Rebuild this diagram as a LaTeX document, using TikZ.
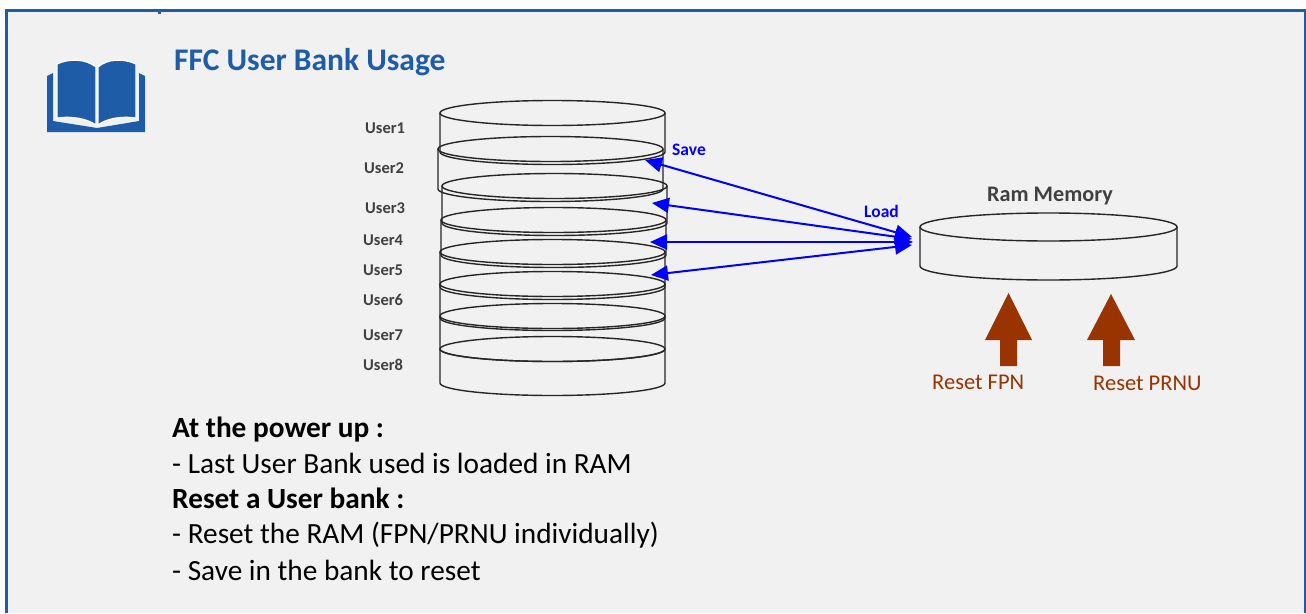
\documentclass[tikz,border=0pt]{standalone}
\usepackage{fontspec}
\setmainfont{Carlito}
\usetikzlibrary{arrows.meta}
\definecolor{ffcblue}{RGB}{30,92,168}
\definecolor{pagegray}{RGB}{241,241,241}
\definecolor{linkblue}{RGB}{0,0,255}
\definecolor{resetred}{RGB}{153,51,0}
\definecolor{darkgray}{RGB}{64,64,64}
% one bank of the stack: left x, right x, top y, bottom y, half height of the ellipse
\newcommand{\userdisc}[5]{%
  \draw[disc] ({(#1+#2)/2},#3) ellipse [x radius={(#2-#1)/2}, y radius=#5];
  \draw[disc] (#1,#3) -- (#1,#4) arc [start angle=180, end angle=0, x radius={(#2-#1)/2}, y radius=#5] -- (#2,#3);}
\begin{document}
\begin{tikzpicture}[x=1pt, y=-1pt,
  disc/.style={draw=black!85, line width=1.4pt},
  userlbl/.style={anchor=base west, inner sep=0pt, text=darkgray, font=\fontsize{16.5}{18}\selectfont\bfseries},
  linklbl/.style={anchor=base west, inner sep=0pt, text=linkblue, font=\fontsize{17.5}{20}\selectfont\bfseries},
  resetlbl/.style={anchor=base west, inner sep=0pt, text=resetred, font=\fontsize{22.5}{26}\selectfont},
  bodyline/.style={anchor=base west, inner sep=0pt, font=\fontsize{29.3}{34}\selectfont},
  link/.style={linkblue, line width=2pt, {Triangle[length=17pt,width=15pt]}-{Triangle[length=17pt,width=15pt]}},
  resetarrow/.style={fill=resetred}]
\useasboundingbox (0,0) rectangle (1306,613);
% frame
\fill[white] (0,0) rectangle (1306,613);
\fill[pagegray] (6,10) rectangle (1305,613);
\draw[ffcblue, line width=3pt] (6.5,613) -- (6.5,10.5) -- (1305,10.5) -- (1305,613);
\fill[ffcblue] (158,10) rectangle (161,13.5);

% book icon
\begin{scope}[ffcblue]
\fill (47,76) -- (53,73) -- (53,121) -- (97,128) -- (97,132) -- (47,132) -- cycle;
\fill (145,76) -- (139,73) -- (139,121) -- (97,128) -- (97,132) -- (145,132) -- cycle;
\filldraw[draw=white, line width=1.2pt] (57,64) .. controls (70,58) and (86,59) .. (96,67)
  -- (96,125) .. controls (86,118) and (70,116) .. (57,118) -- cycle;
\filldraw[draw=white, line width=1.2pt] (136,64) .. controls (123,58) and (107,59) .. (98,67)
  -- (98,125) .. controls (107,118) and (123,116) .. (136,118) -- cycle;
\end{scope}
\node[anchor=base west, inner sep=0pt, text=ffcblue, font=\fontsize{31.5}{36}\selectfont\bfseries] (title) at (174,70) {FFC User Bank Usage};

% the eight user banks
\userdisc{440}{665}{113}{152}{12.5}
\userdisc{438}{663}{149}{189}{12.5}
\userdisc{442}{667}{186}{223}{12.5}
\userdisc{441}{666}{220}{255}{12.5}
\userdisc{440}{665}{252}{287}{12.5}
\userdisc{440}{665}{284}{318}{12.5}
\userdisc{440}{665}{316}{349}{12.5}
\userdisc{440}{665}{349}{383}{12.5}
\node[userlbl] (user1) at (365,133) {User1};
\node[userlbl] (user2) at (364,173) {User2};
\node[userlbl] (user3) at (365,213) {User3};
\node[userlbl] (user4) at (363,245) {User4};
\node[userlbl] (user5) at (363,275) {User5};
\node[userlbl] (user6) at (363,305) {User6};
\node[userlbl] (user7) at (363,340) {User7};
\node[userlbl] (user8) at (363,370) {User8};

% ram
\userdisc{920}{1177}{227}{266}{14}
\node[anchor=base west, inner sep=0pt, text=darkgray, font=\fontsize{22.2}{26}\selectfont\bfseries] (ramlbl) at (987,201) {Ram Memory};

% save / load links
\coordinate (bank2) at (645,160);
\coordinate (bank3) at (652,203);
\coordinate (bank4) at (650,242);
\coordinate (bank5) at (651,275);
\coordinate (ram1) at (912,237);
\coordinate (ram2) at (912,239);
\coordinate (ram3) at (913,242);
\coordinate (ram4) at (912,245);
\draw[link] (bank2) -- (ram1);
\draw[link] (bank3) -- (ram2);
\draw[link] (bank4) -- (ram3);
\draw[link] (bank5) -- (ram4);
\node[linklbl] (save) at (672,155) {Save};
\node[linklbl] (load) at (864,217) {Load};

% reset arrows
\fill[resetarrow] (1008.5,293) -- (1032,340) -- (1017,340) -- (1017,366) -- (1000,366) -- (1000,340) -- (985,340) -- cycle;
\fill[resetarrow] (1111,294) -- (1135,340) -- (1120,340) -- (1120,366) -- (1103,366) -- (1103,340) -- (1087,340) -- cycle;
\node[resetlbl] (fpn) at (932,389) {Reset FPN};
\node[resetlbl] (prnu) at (1093,390) {Reset PRNU};

% notes
\node[bodyline, font=\fontsize{29.3}{34}\selectfont\bfseries] (note1) at (172,437) {At the power up :};
\node[bodyline] (note2) at (172,473) {- Last User Bank used is loaded in RAM};
\node[bodyline, font=\fontsize{29.3}{34}\selectfont\bfseries] (note3) at (172,508) {Reset a User bank :};
\node[bodyline] (note4) at (172,543) {- Reset the RAM (FPN/PRNU individually)};
\node[bodyline] (note5) at (172,580) {- Save in the bank to reset};
\end{tikzpicture}
\end{document}
